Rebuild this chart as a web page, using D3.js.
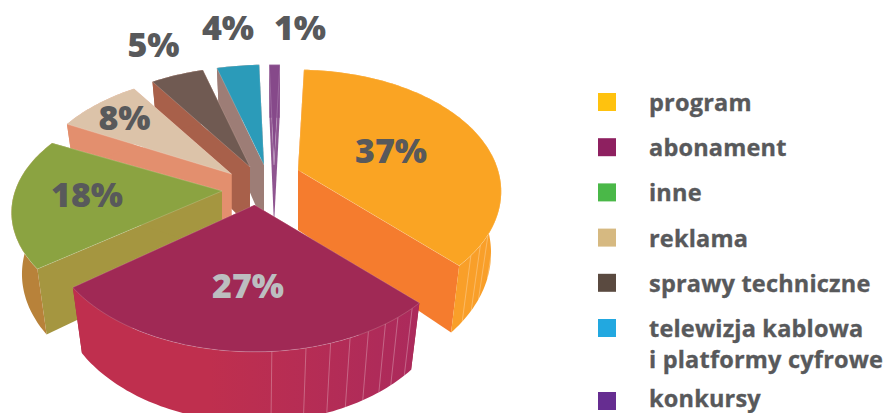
<!DOCTYPE html>
<html>
<head>
<meta charset="utf-8">
<script src="https://cdn.jsdelivr.net/npm/d3@7"></script>
<style>
  html, body { margin: 0; padding: 0; background: #fff; }
  text { font-family: "Open Sans", sans-serif; font-weight: 700; fill: #58595b; }
</style>
</head>
<body>
<div id="chart"></div>
<script>
// Chart data
const categories = ["program", "abonament", "inne", "reklama", "sprawy techniczne", "telewizja kablowa", "konkursy"];
const shares = [37, 27, 18, 8, 5, 4, 1];
const shareLabels = ["37%", "27%", "18%", "8%", "5%", "4%", "1%"];

// Colours
const legendColors = ["#ffc20e", "#8e2060", "#4ab848", "#d6b981", "#5a4a40", "#22a8e0", "#662d91"];
const topColors = ["#faa423", "#a02955", "#8ba341", "#dcc3a9", "#705a52", "#2b9bb9", "#86498a"];
const sideColors = ["#f57c2e", "#a2293f", "#a59640", "#e38f6e", "#a8604a", "#9d7d76", "#8f5590"];
const rimColors = ["#f99f29", "url(#rimAbonament)", "#b8823a", "#e38f6e", "#a8604a", "#9d7d76", "#86498a"];

// Layout of the exploded slices: offset of each apex from the pie centre, and slice size
const pullX = [36, -7.5, -40, -30.5, -12, 2, 12];
const pullY = [-2, 33, 19, 2, -5, -7, -7];
const sizeScale = [1, 1.02, 1.035, 1, 1, 1, 1];
const flatScale = [1, 1, 0.93, 1, 1, 1, 1];
const labelX = [391, 248, 87, 124.5, 153.5, 228, 300];
const labelY = [163, 298, 207, 130, 57, 40, 40];

// Ribs on the outer wall, in degrees clockwise from 12 o'clock
const ribs = {
  0: [130, 125, 120, 111],
  1: [138, 143, 147, 152, 157, 162, 168, 176]
};

const width = 884, height = 413;
const cx = 262, cy = 172;
const radius = 200, tilt = 0.59, eye = 5.65;
const depth = 60, narrow = 0.95, grow = 0.07;
const startDeg = 2;

const svg = d3.select("#chart").append("svg")
  .attr("width", width)
  .attr("height", height)
  .style("display", "block");

// Gradient runs in the coordinates of the slice group
const rimGradient = svg.append("defs").append("linearGradient")
  .attr("id", "rimAbonament")
  .attr("gradientUnits", "userSpaceOnUse")
  .attr("x1", -185).attr("y1", 0)
  .attr("x2", 165).attr("y2", 0);
rimGradient.append("stop").attr("offset", "0.4").attr("stop-color", "#bf2f4e");
rimGradient.append("stop").attr("offset", "1").attr("stop-color", "#ab2a5c");

const pie = d3.pie().sort(null)
  .startAngle(startDeg * Math.PI / 180)
  .endAngle((startDeg + 360) * Math.PI / 180);
const arcs = pie(shares);

// Project a point of the slice plane on screen; perspective makes the near side bigger
function project(a, i) {
  const r = sizeScale[i];
  const u = Math.sin(a) * r, v = -Math.cos(a) * r;
  const s = eye / (eye - v);
  return [u * s * radius, v * s * radius * tilt * flatScale[i]];
}

function lower(p) {
  return [p[0] * narrow, p[1] + depth + p[1] * grow];
}

function rimPoints(a0, a1, i) {
  const n = Math.max(2, Math.ceil((a1 - a0) / 0.02));
  return d3.range(n + 1).map(k => project(a0 + (a1 - a0) * k / n, i));
}

const line = d3.line();

// Back to front so near slices cover the walls of the far ones
const drawOrder = [6, 5, 4, 3, 2, 0, 1];

drawOrder.forEach(i => {
  const d = arcs[i];
  const g = svg.append("g").attr("transform", `translate(${cx + pullX[i]},${cy + pullY[i]})`);
  const apex = [0, 0];
  const rim = rimPoints(d.startAngle, d.endAngle, i);
  const first = rim[0], last = rim[rim.length - 1];

  // Radial walls
  [first, last].forEach(p => {
    g.append("path")
      .attr("d", line([apex, p, lower(p), lower(apex)]) + "Z")
      .attr("fill", sideColors[i]);
  });

  // Outer wall
  g.append("path")
    .attr("d", line(rim.concat(rim.map(lower).reverse())) + "Z")
    .attr("fill", rimColors[i]);

  (ribs[i] || []).forEach(deg => {
    const p = project(deg * Math.PI / 180, i);
    g.append("path")
      .attr("d", line([p, lower(p)]))
      .attr("stroke", "#fff")
      .attr("stroke-opacity", 0.35)
      .attr("stroke-width", 0.8)
      .attr("fill", "none");
  });

  // Top face
  g.append("path")
    .attr("d", line([apex].concat(rim)) + "Z")
    .attr("fill", topColors[i])
    .attr("stroke", "#fff")
    .attr("stroke-opacity", 0.3)
    .attr("stroke-width", 0.6);
});

// Percent labels
svg.append("g").selectAll("text")
  .data(shareLabels)
  .enter().append("text")
  .attr("x", (d, i) => labelX[i])
  .attr("y", (d, i) => labelY[i])
  .attr("text-anchor", "middle")
  .style("font-size", "34px")
  .style("font-weight", 800)
  .style("fill", (d, i) => i === 1 ? "#bcbec0" : "#58595b")
  .text(d => d);

// Legend
const legendNames = categories.map(c => c === "telewizja kablowa" ? [c, "i platformy cyfrowe"] : [c]);
const legend = svg.append("g");
let rowY = 93;
legendNames.forEach((lines, i) => {
  legend.append("rect")
    .attr("x", 598).attr("y", rowY)
    .attr("width", 18).attr("height", 18)
    .attr("fill", legendColors[i]);
  lines.forEach((t, j) => {
    legend.append("text")
      .attr("x", 649)
      .attr("y", Math.min(rowY + 18 + j * 30.5, 407))
      .style("font-size", "23.5px")
      .style("letter-spacing", "0.2px")
      .style("stroke", "#58595b")
      .style("stroke-width", 0.35)
      .text(t);
  });
  rowY += 45.2 + (lines.length - 1) * 27.8;
});
</script>
</body>
</html>
